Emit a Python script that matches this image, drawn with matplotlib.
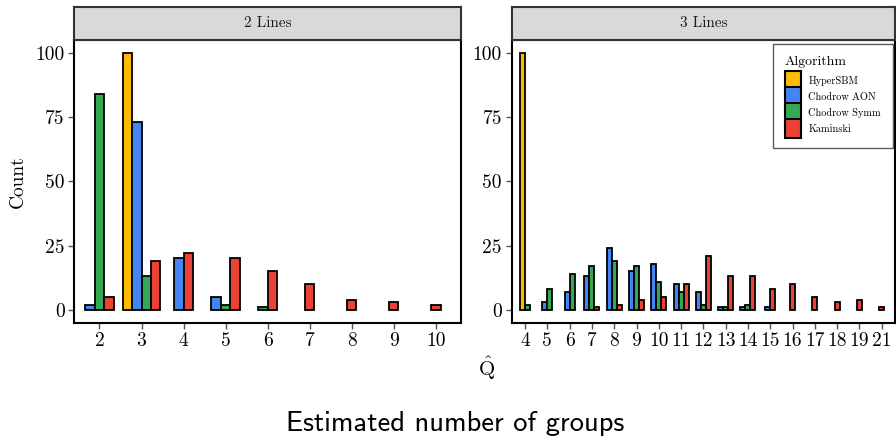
#!/usr/bin/env python3

import matplotlib
matplotlib.use("Agg")
import matplotlib.pyplot as plt
import matplotlib.patches as mpatches
from matplotlib.legend_handler import HandlerPatch
import numpy as np

plt.rcParams['font.family'] = 'cmr10'
plt.rcParams['mathtext.fontset'] = 'cm'
plt.rcParams['axes.formatter.use_mathtext'] = True

algorithms = ["HyperSBM", "Chodrow AON", "Chodrow Symm", "Kaminski"]
colors = ["#FBBC04", "#4285F4", "#34A853", "#EA4335"]

# 2 Lines panel
q_2lines = [2, 3, 4, 5, 6, 7, 8, 9, 10]
counts_2lines = {
    "HyperSBM":     [0, 100, 0, 0, 0, 0, 0, 0, 0],
    "Chodrow AON":  [2, 73, 20, 5, 0, 0, 0, 0, 0],
    "Chodrow Symm": [84, 13, 0, 2, 1, 0, 0, 0, 0],
    "Kaminski":     [5, 19, 22, 20, 15, 10, 4, 3, 2],
}

# 3 Lines panel
q_3lines = [4, 5, 6, 7, 8, 9, 10, 11, 12, 13, 14, 15, 16, 17, 18, 19, 21]
counts_3lines = {
    "HyperSBM":     [100, 0, 0, 0, 0, 0, 0, 0, 0, 0, 0, 0, 0, 0, 0, 0, 0],
    "Chodrow AON":  [0, 3, 7, 13, 24, 15, 18, 10, 7, 1, 1, 1, 0, 0, 0, 0, 0],
    "Chodrow Symm": [2, 8, 14, 17, 19, 17, 11, 7, 2, 1, 2, 0, 0, 0, 0, 0, 0],
    "Kaminski":     [0, 0, 0, 1, 2, 4, 5, 10, 21, 13, 13, 8, 10, 5, 3, 4, 1],
}

BAR_W = 0.225


def draw_panel(ax, sax, cats, counts, title):
    # dodge: only the groups present at each x, centred on the tick
    for i in range(len(cats)):
        present = [(a, c) for a, c in zip(algorithms, colors) if counts[a][i] > 0]
        n = len(present)
        for k, (a, c) in enumerate(present):
            xpos = i + (k - (n - 1) / 2.0) * BAR_W
            ax.bar(xpos, counts[a][i], width=BAR_W, color=c,
                   edgecolor="black", linewidth=1.3, zorder=2)
    ax.set_xlim(-0.6, len(cats) - 0.4)
    ax.set_ylim(-5, 105)
    ax.set_xticks(range(len(cats)))
    ax.set_xticklabels([str(q) for q in cats], fontsize=14)
    ax.set_yticks([0, 25, 50, 75, 100])
    ax.set_yticklabels(["0", "25", "50", "75", "100"], fontsize=14)
    ax.tick_params(length=4, width=1, color="#555555", pad=3)
    for s in ax.spines.values():
        s.set_linewidth(1.5)
        s.set_color("black")

    sax.set_facecolor("#D9D9D9")
    sax.set_xticks([])
    sax.set_yticks([])
    for s in sax.spines.values():
        s.set_linewidth(1.5)
        s.set_color("#333333")
    sax.text(0.5, 0.5, title, ha="center", va="center", fontsize=11,
             color="#1A1A1A", transform=sax.transAxes)


def key_patch(legend, orig_handle, xdescent, ydescent, width, height, fontsize):
    # ggplot-like key: fills nearly the whole row
    return mpatches.Rectangle((-xdescent, -ydescent - 0.1 * height),
                              width, height * 1.2)


fig = plt.figure(figsize=(8.96, 4.36), dpi=100)

ax1 = fig.add_axes([0.0829, 0.2599, 0.4316, 0.6484])
ax2 = fig.add_axes([0.5711, 0.2599, 0.4278, 0.6484])
s1 = fig.add_axes([0.0829, 0.9083, 0.4316, 0.075])
s2 = fig.add_axes([0.5711, 0.9083, 0.4278, 0.075])

draw_panel(ax1, s1, q_2lines, counts_2lines, "2 Lines")
draw_panel(ax2, s2, q_3lines, counts_3lines, "3 Lines")

ax1.set_ylabel("Count", fontsize=14, labelpad=6)

handles = [mpatches.Patch(facecolor=c, edgecolor="black", linewidth=1.5, label=a)
           for a, c in zip(algorithms, colors)]
leg = ax2.legend(handles=handles, title="Algorithm", loc="upper right",
                 fontsize=7.4, title_fontsize=10, frameon=True, fancybox=False,
                 edgecolor="#333333", handlelength=1.55, handleheight=2.02,
                 handletextpad=0.75, labelspacing=0.0, borderpad=1.15,
                 borderaxespad=0.0, bbox_to_anchor=(0.994, 0.985),
                 handler_map={mpatches.Patch: HandlerPatch(patch_func=key_patch)})
leg.get_frame().set_linewidth(1.0)
leg._legend_box.align = "left"
leg._legend_box.sep = 3

fig.text(0.543, 0.155, r"$\hat{\mathrm{Q}}$", ha="center", va="center", fontsize=15)
fig.text(0.508, 0.0125, "Estimated number of groups", ha="center", va="baseline",
         fontsize=20.5, family="cmss10")

fig.savefig("out.png", dpi=100)
